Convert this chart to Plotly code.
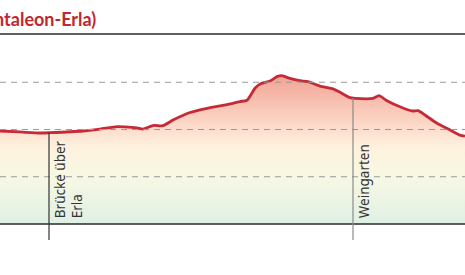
import plotly.graph_objects as go
import numpy as np

# Distance along route (km) and elevation (m)
distance_km = [0.00, 0.40, 0.80, 1.00, 1.66, 2.00, 2.34, 2.50, 2.74, 2.86, 3.06, 3.26,
               3.46, 3.80, 4.14, 4.40, 4.66, 4.80, 4.94, 5.10, 5.20, 5.40, 5.54, 5.64,
               5.80, 6.00, 6.16, 6.40, 6.66, 6.80, 7.00, 7.10, 7.46, 7.58, 7.74, 8.00,
               8.24, 8.36, 8.50, 8.74, 9.00, 9.20, 9.30]
elevation_m = [248.4, 247.4, 246.3, 246.6, 248.4, 250.5, 253.0, 252.7, 251.6, 250.5, 254.2, 254.0,
               260.0, 268.0, 272.4, 275.0, 277.7, 279.6, 281.0, 293.6, 298.0, 301.3, 306.0, 307.0,
               304.0, 301.6, 300.6, 296.0, 293.0, 289.4, 283.7, 283.0, 283.0, 285.8, 280.5, 274.0,
               269.6, 270.0, 265.3, 256.6, 249.5, 244.0, 243.0]

# Waypoints
waypoint_names = ["Brücke über<br>Erla", "Weingarten"]
waypoint_km = [0.98, 7.06]
waypoint_colors = ["#333333", "#8a8a8a"]

grid_values = [200, 250, 300]
y_min, y_max = 150, 350
x_min, x_max = 0, 9.3

title_text = "Höhenprofil (St. Pantaleon-Erla)"

fig = go.Figure()
fig.add_trace(go.Scatter(
    x=distance_km, y=elevation_m, mode="lines",
    line=dict(color="#c62a36", width=2.8, shape="spline", smoothing=0.6),
    fill="tozeroy",
    fillgradient=dict(
        type="vertical", start=150, stop=307,
        colorscale=[[0.0, "rgb(224,240,229)"], [0.318, "rgb(247,248,228)"],
                    [0.516, "rgb(254,242,222)"], [0.637, "rgb(252,222,205)"],
                    [0.834, "rgb(248,190,175)"], [1.0, "rgb(240,163,148)"]]),
    hoverinfo="skip", showlegend=False,
))

shapes = []
for g in grid_values:
    shapes.append(dict(type="line", xref="paper", yref="y", x0=0, x1=1, y0=g, y1=g,
                       line=dict(color="#9a9a9a", width=1, dash="6px,5px"), layer="above"))
# top and bottom solid lines
shapes.append(dict(type="line", xref="paper", yref="paper", x0=0, x1=1, y0=1.005, y1=1.005,
                   line=dict(color="#2a2a2a", width=1.6)))
shapes.append(dict(type="line", xref="paper", yref="paper", x0=0, x1=1, y0=0, y1=0,
                   line=dict(color="#2a2a2a", width=1.6), layer="above"))

# waypoint vertical lines
for name, km, col in zip(waypoint_names, waypoint_km, waypoint_colors):
    top = float(np.interp(km, distance_km, elevation_m))
    shapes.append(dict(type="line", xref="x", yref="y", x0=km, x1=km, y0=y_min, y1=top,
                       line=dict(color=col, width=1.2), layer="above"))
    shapes.append(dict(type="line", xref="x", yref="paper", x0=km, x1=km, y0=-0.085, y1=0,
                       line=dict(color=col, width=1.2), layer="above"))

annotations = []
for name, km in zip(waypoint_names, waypoint_km):
    annotations.append(dict(x=km, y=y_min + 4, xref="x", yref="y", text=name,
                            textangle=-90, showarrow=False, xanchor="left", yanchor="bottom",
                            xshift=0, align="left",
                            font=dict(family="Noto Sans, sans-serif", size=13.5, color="#333333")))
annotations.append(dict(x=98 / 465, y=1.085, xref="paper", yref="paper", text="<b>" + title_text + "</b>",
                        showarrow=False, xanchor="right", yanchor="middle",
                        font=dict(family="Lato, sans-serif", size=18, color="#c2262e")))

fig.update_layout(
    width=465, height=275,
    margin=dict(l=0, r=0, t=35, b=51),
    paper_bgcolor="white", plot_bgcolor="rgba(0,0,0,0)",
    xaxis=dict(range=[x_min, x_max], visible=False, fixedrange=True),
    yaxis=dict(range=[y_min, y_max], visible=False, fixedrange=True),
    shapes=shapes, annotations=annotations,
)

fig.write_html("out.html", config={"displayModeBar": False})
